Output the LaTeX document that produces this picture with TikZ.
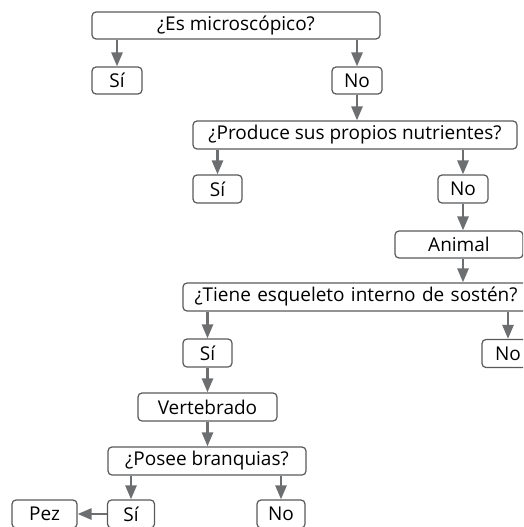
\documentclass[tikz,border=0pt]{standalone}
\usepackage{fontspec}
\setmainfont{Open Sans}
\usetikzlibrary{arrows.meta}
\definecolor{boxline}{HTML}{58595B}
\definecolor{arrowgray}{HTML}{6D6E70}
\tikzset{
  box/.style={draw=boxline, line width=1.2pt, rounded corners=4pt, inner sep=0pt,
    minimum height=27pt, font=\fontsize{19}{21}\selectfont, text=black},
  arr/.style={draw=arrowgray, line width=2.6pt, -{Triangle[width=11pt,length=14pt]}, shorten >=0pt}
}
\begin{document}
\begin{tikzpicture}[x=1pt,y=-1pt]
\clip (0,0) rectangle (523,527);
\node[box, minimum width=288pt] (q1) at (236,25.5) {¿Es microscópico?};
\node[box, minimum width=50pt] (s1) at (117,80.5) {Sí};
\node[box, minimum width=50pt] (n1) at (357,80.5) {No};
\node[box, minimum width=324pt, minimum height=28pt] (q2) at (355,135) {¿Produce sus propios nutrientes?};
\node[box, minimum width=49pt, minimum height=28pt] (s2) at (217.5,189) {Sí};
\node[box, minimum width=50pt, minimum height=28pt] (n2) at (463,189) {No};
\node[box, minimum width=128pt] (an) at (459,244.5) {Animal};
\node[box, minimum width=346pt, minimum height=28pt, text width=338pt, align=center] (q3) at (356,297) {¿Tiene esqueleto interno de sostén?};
\node[box, minimum width=49pt, minimum height=28pt] (s3) at (207.5,353) {Sí};
\node[box, minimum width=52pt, minimum height=28pt] (n3) at (508,353.5) {No};
\node[box, minimum width=139pt, minimum height=28pt] (ve) at (207.5,407) {Vertebrado};
\node[box, minimum width=198pt, minimum height=28pt] (q4) at (207,461) {¿Posee branquias?};
\node[box, minimum width=47pt, minimum height=28pt] (s4) at (131,514) {Sí};
\node[box, minimum width=48pt, minimum height=28pt] (n4) at (281,514) {No};
\node[box, minimum width=65pt, minimum height=28pt] (pez) at (44.5,514) {Pez};
\draw[arr] (q1.south -| s1.north) -- (s1.north);
\draw[arr] (q1.south -| n1.north) -- (n1.north);
\draw[arr] (n1.south) -- (q2.north -| n1.south);
\draw[arr] (q2.south -| s2.north) -- (s2.north);
\draw[arr] (q2.south -| n2.north) -- (n2.north);
\draw[arr] (n2.south) -- (an.north -| n2.south);
\draw[arr] (an.south -| n2.south) -- (q3.north -| n2.south);
\draw[arr] (q3.south -| s3.north) -- (s3.north);
\draw[arr] (q3.south -| n3.north) -- (n3.north);
\draw[arr] (s3.south) -- (ve.north -| s3.south);
\draw[arr] (ve.south) -- (q4.north -| ve.south);
\draw[arr] (q4.south -| s4.north) -- (s4.north);
\draw[arr] (q4.south -| n4.north) -- (n4.north);
\draw[arr] (s4.west) -- (pez.east);
\end{tikzpicture}
\end{document}
